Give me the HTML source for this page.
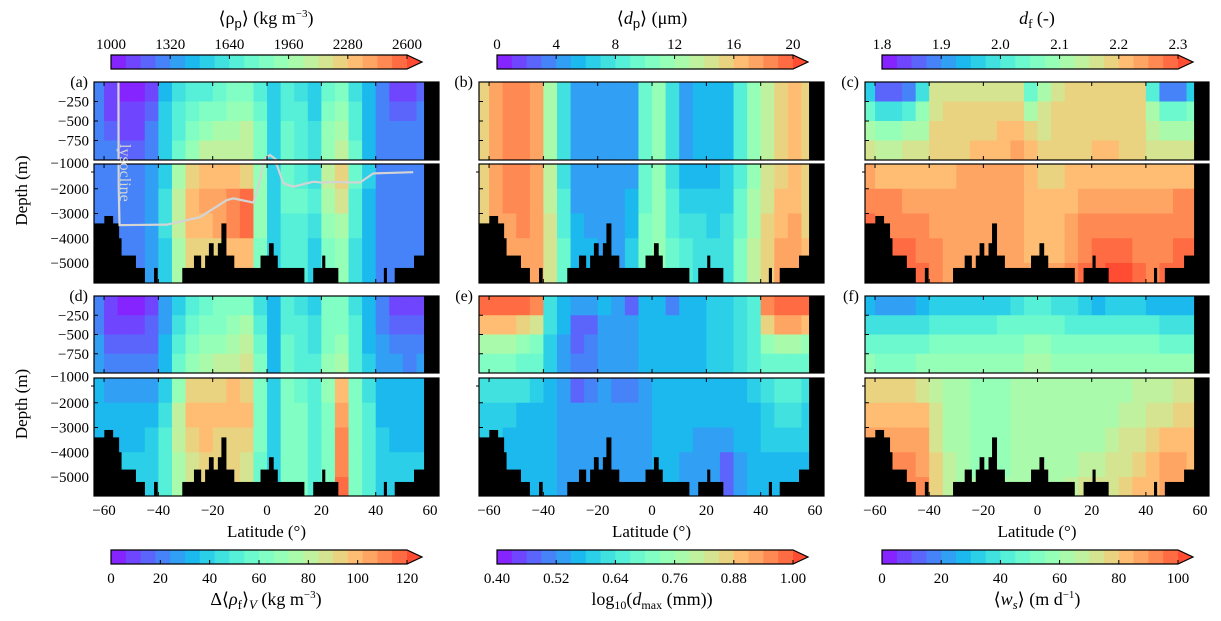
<!DOCTYPE html>
<html><head><meta charset="utf-8">
<style>
html,body{margin:0;padding:0;background:#fff;}
svg{display:block;font-family:"Liberation Serif","DejaVu Serif",serif;}
</style></head>
<body>
<svg id="fig" width="1221" height="621" viewBox="0 0 1221 621" xmlns="http://www.w3.org/2000/svg"></svg>
<script>
// ---------- DATA ----------
const latCols = [-62.5,-57.5,-52.5,-47.5,-42.5,-37.5,-32.5,-27.5,-22.5,-17.5,-12.5,-7.5,-2.5,2.5,7.5,12.5,17.5,22.5,27.5,32.5,37.5,42.5,47.5,52.5,57.5];
const depthEdges = [0,250,500,750,1000,2000,3000,4000,5000,5818];
const xTicks = [-60,-40,-20,0,20,40,60];
const yTicksUpper = [-250,-500,-750];
const yTicksLower = [-2000,-3000,-4000,-5000];

const rhoP = [
[1250,1100,1060,1060,1150,1450,1600,1650,1700,1750,1800,1850,1700,1500,1650,1600,1500,1750,1800,1600,1400,1250,1150,1120,1200],
[1280,1150,1100,1100,1200,1480,1650,1750,1800,1850,1900,1950,1750,1500,1700,1650,1550,1850,1900,1650,1420,1280,1200,1200,1250],
[1300,1200,1150,1150,1250,1500,1700,1850,1950,2000,2000,2050,1800,1550,1750,1700,1600,1900,2000,1700,1450,1300,1280,1280,1300],
[1300,1250,1200,1200,1300,1550,1750,1950,2050,2100,2100,2100,1850,1550,1750,1700,1600,1950,2050,1750,1450,1300,1300,1300,1300],
[1300,1300,1300,1300,1350,1550,2000,2200,2300,2300,2300,2250,1900,1500,1750,1700,1600,2050,2250,1750,1500,1300,1300,1300,1300],
[1300,1300,1300,1300,1350,1600,2100,2350,2400,2400,2450,2520,1950,1500,1750,1750,1650,2000,2150,1700,1450,1300,1300,1300,1300],
[1300,1300,1300,1300,1350,1600,2050,2300,2350,2400,2480,2520,1900,1500,1700,1700,1600,1900,2000,1650,1400,1300,1300,1300,1300],
[1300,1300,1300,1300,1350,1550,2000,2200,2250,2250,2300,2350,1850,1500,1650,1650,1550,1850,1950,1600,1400,1300,1300,1300,1300],
[1300,1300,1300,1300,1350,1550,2000,2200,2250,2250,2300,2350,1850,1500,1650,1650,1550,1850,1950,1600,1400,1300,1300,1300,1300]];
const dP = [
[15,17.5,18,18,17,12,7,4.5,4.5,4.5,4.5,4.5,9,11,7,4.5,5,5,5.5,8,11,13.5,15,16,15],
[15,17.5,18,18,17,12,7,4.5,4.5,4.5,4.5,4.5,9,11,7,4.5,5,5,5.5,8,11,13.5,15,16,15],
[15,17.5,18,18,17,12,7,4.5,4.5,4.5,4.5,4.5,9,11,7,4.5,5,5,5.5,8,11,13.5,15,16,15],
[15,17.5,18,18,17,12.5,7,4.5,4.5,4.5,4.5,4.5,9,11,7,4.5,5,5,5.5,8,11,13.5,15,16,15],
[15,17.5,18,18,17,13,7.5,4.5,4.5,4.5,4.5,4.5,9,11,7.5,5,5.5,5.5,6,8.5,11.5,14,15.5,16,15],
[15,17.5,18,18,17,13.5,8,4.5,4.5,4.5,4.5,5,9.5,11,8,6,6,6,6.5,9,12,14.5,16,16.5,15],
[15,17.5,17.5,18,17,14,8.5,5,4.5,4.5,4.5,5.5,10,11,8.5,7,7,6.5,7,9.5,12.5,15,16.5,17,15.5],
[15,17,17.5,17.5,17,14.5,9,5.5,5,4.5,4.5,6,10,11,9,8,7.5,7,7.5,10,13,15.5,17,17,16],
[15,17,17.5,17.5,17,14.5,9,5.5,5,4.5,4.5,6,10,11,9,8,7.5,7,7.5,10,13,15.5,17,17,16]];
const dF = [
[1.96,1.86,1.85,1.88,1.98,2.15,2.17,2.17,2.17,2.17,2.17,2.17,2.05,2.12,2.17,2.18,2.18,2.18,2.18,2.18,2.18,2.02,1.90,1.88,1.97],
[2.04,1.99,1.99,2.01,2.08,2.17,2.18,2.18,2.18,2.18,2.18,2.18,2.12,2.15,2.18,2.18,2.18,2.18,2.18,2.18,2.18,2.10,2.05,2.04,2.06],
[2.11,2.09,2.09,2.10,2.12,2.18,2.18,2.19,2.19,2.19,2.20,2.22,2.18,2.17,2.18,2.19,2.18,2.19,2.19,2.19,2.18,2.14,2.12,2.11,2.12],
[2.16,2.14,2.14,2.15,2.16,2.18,2.19,2.19,2.20,2.20,2.22,2.23,2.20,2.18,2.18,2.19,2.19,2.20,2.20,2.19,2.18,2.17,2.16,2.16,2.16],
[2.23,2.22,2.22,2.21,2.21,2.20,2.22,2.23,2.23,2.23,2.23,2.23,2.22,2.19,2.19,2.21,2.22,2.22,2.22,2.22,2.21,2.21,2.21,2.21,2.22],
[2.26,2.25,2.25,2.24,2.23,2.23,2.23,2.23,2.23,2.23,2.23,2.23,2.22,2.20,2.20,2.22,2.23,2.23,2.23,2.23,2.23,2.23,2.24,2.25,2.25],
[2.28,2.27,2.27,2.26,2.25,2.24,2.23,2.23,2.23,2.23,2.23,2.23,2.22,2.21,2.21,2.23,2.25,2.26,2.26,2.25,2.25,2.25,2.26,2.27,2.27],
[2.29,2.29,2.28,2.28,2.27,2.25,2.24,2.24,2.23,2.23,2.23,2.23,2.22,2.22,2.22,2.24,2.27,2.28,2.29,2.28,2.27,2.26,2.27,2.28,2.28],
[2.30,2.30,2.29,2.29,2.28,2.26,2.24,2.24,2.24,2.23,2.23,2.23,2.23,2.23,2.24,2.25,2.28,2.29,2.30,2.30,2.28,2.27,2.28,2.29,2.29]];
const dRhoF = [
[20,8,5,5,8,25,40,50,55,60,62,65,45,30,50,45,40,60,62,45,30,20,10,8,10],
[22,10,8,8,12,28,45,55,60,65,68,75,50,32,52,48,42,62,65,48,32,22,15,12,15],
[25,15,12,12,15,30,50,62,68,70,75,82,55,35,55,50,45,65,68,50,35,25,20,18,20],
[28,20,18,18,20,32,55,70,75,78,82,88,60,35,58,52,48,68,72,52,38,28,25,22,25],
[30,28,25,25,28,40,70,92,95,95,98,95,60,38,62,58,50,68,100,60,45,32,30,30,30],
[32,30,30,30,32,45,80,98,100,98,100,98,62,38,65,60,52,65,102,62,48,35,32,32,32],
[35,35,35,35,38,48,78,95,98,95,95,92,60,38,65,60,52,62,108,62,48,38,35,35,35],
[38,38,38,38,40,50,72,88,92,92,92,88,58,40,65,60,52,62,112,62,48,40,38,38,38],
[38,38,38,38,40,50,72,88,92,92,92,88,58,40,65,60,52,62,118,62,48,40,38,38,38]];
const logDmax = [
[0.98,0.98,0.98,0.97,0.95,0.62,0.56,0.52,0.53,0.55,0.54,0.47,0.55,0.58,0.50,0.58,0.58,0.60,0.60,0.62,0.66,0.96,0.98,0.98,0.98],
[0.88,0.88,0.88,0.86,0.82,0.62,0.55,0.49,0.48,0.52,0.54,0.52,0.56,0.58,0.56,0.58,0.58,0.60,0.60,0.62,0.66,0.85,0.92,0.92,0.90],
[0.76,0.76,0.76,0.74,0.72,0.60,0.52,0.48,0.50,0.52,0.54,0.53,0.56,0.58,0.57,0.58,0.58,0.60,0.60,0.62,0.65,0.74,0.76,0.76,0.74],
[0.72,0.72,0.72,0.70,0.68,0.60,0.52,0.50,0.50,0.52,0.54,0.53,0.56,0.58,0.57,0.58,0.58,0.60,0.60,0.62,0.64,0.68,0.70,0.70,0.68],
[0.62,0.62,0.62,0.62,0.60,0.56,0.52,0.49,0.50,0.52,0.50,0.51,0.54,0.56,0.56,0.56,0.56,0.57,0.58,0.58,0.60,0.62,0.64,0.64,0.62],
[0.60,0.60,0.60,0.58,0.57,0.55,0.53,0.52,0.52,0.52,0.52,0.52,0.54,0.55,0.55,0.55,0.55,0.55,0.55,0.56,0.58,0.60,0.62,0.62,0.60],
[0.60,0.60,0.58,0.57,0.56,0.55,0.53,0.53,0.53,0.53,0.53,0.53,0.54,0.55,0.55,0.55,0.54,0.54,0.52,0.55,0.58,0.60,0.60,0.60,0.60],
[0.60,0.60,0.57,0.56,0.56,0.55,0.53,0.53,0.53,0.53,0.53,0.53,0.54,0.55,0.55,0.54,0.53,0.52,0.49,0.54,0.57,0.58,0.58,0.58,0.58],
[0.60,0.60,0.57,0.56,0.56,0.55,0.53,0.53,0.53,0.53,0.53,0.53,0.54,0.55,0.55,0.54,0.53,0.52,0.46,0.54,0.57,0.58,0.58,0.58,0.58]];
const wS = [
[28,22,20,22,25,30,30,30,32,32,32,35,40,40,35,35,30,28,32,32,30,28,25,25,25],
[38,35,35,35,38,42,42,42,42,42,45,45,48,48,45,42,40,40,42,42,42,40,38,38,38],
[48,45,45,45,48,50,50,50,50,50,52,52,55,55,52,50,50,50,52,52,52,50,48,48,48],
[55,53,53,53,55,57,57,57,57,57,58,58,60,60,58,57,57,57,58,58,58,57,55,55,55],
[78,76,76,75,72,65,60,60,58,58,58,60,62,62,60,60,60,62,63,64,65,66,68,70,72],
[82,82,82,82,80,70,62,60,58,58,58,60,62,62,60,60,60,62,64,66,68,70,72,75,76],
[85,86,88,88,85,72,64,60,58,58,58,60,62,62,60,62,62,64,66,70,72,76,80,82,80],
[88,90,92,92,88,75,65,60,58,58,58,60,62,62,60,64,66,68,70,74,78,82,85,85,84],
[90,92,94,94,90,78,66,62,60,60,60,62,62,62,62,66,70,72,74,76,80,84,86,86,86]];
// bathymetry: [start latitude, depth of seafloor top (m) or null]
const bathyStart = [-63.7,-59.9,-56.8,-54.6,-53.7,-48.4,-45.1,-41.6,-40.4,-31.2,-26.9,-24.4,-22.8,-21.4,-19.8,-18.1,-16.8,-15.1,-12.2,-2.4,0.7,2.3,3.8,13.6,17.0,20.3,21.3,26.1,43.0,44.0,47.0,54.1,57.8];
const bathyDepth = [3400,3100,3400,4000,4700,5200,null,5200,null,5200,4700,5200,4700,4200,4700,4200,3400,4700,5200,4700,4200,4700,5200,null,5200,4700,5200,null,5200,null,5200,4700,0];
const lysoLat = [-54.7,-54.6,-54.3,-36.9,-24.7,-14.8,-12.4,-5.0,-3.2,-1.4,1.1,3.5,6.0,9.7,17.0,20.1,24.4,34.2,39.1,53.8];
const lysoDepth = [0,-2000,-3470,-3450,-3150,-2455,-2390,-2560,-1920,-1000,-936,-1000,-1780,-1917,-1715,-1750,-1730,-1750,-1380,-1330];
const cbTicksA = [1000,1320,1640,1960,2280,2600];
const cbTicksB = [0,4,8,12,16,20];
const cbTicksC = [1.8,1.9,2.0,2.1,2.2,2.3];
const cbTicksD = [0,20,40,60,80,100,120];
const cbTicksE = [0.40,0.52,0.64,0.76,0.88,1.00];
const cbTicksF = [0,20,40,60,80,100];

// ---------- LAYOUT ----------
const NS="http://www.w3.org/2000/svg";
const svg=document.getElementById('fig');
function el(tag,attrs,parent){const e=document.createElementNS(NS,tag);for(const k in attrs)e.setAttribute(k,attrs[k]);(parent||svg).appendChild(e);return e;}
const LAT0=-63.7, LAT1=63.3;
const cols=[{x0:94,x1:439},{x0:479,x1:824},{x0:865,x1:1209}];
const rowsY=[{u0:82,u1:160,l0:164,l1:283},{u0:296,u1:373,l0:378,l1:496}];
function xs(c,lat){return c.x0+(lat-LAT0)*(c.x1-c.x0)/(LAT1-LAT0);}
function yU(r,d){return r.u0+(Math.abs(d))/1000*(r.u1-r.u0);}
function yL(r,d){return r.l0+(Math.abs(d)-1000)/1000*24.75;}
function cmapT(t){const r=Math.min(1,Math.abs(2*t-0.5)),g=Math.sin(Math.PI*t),b=Math.cos(Math.PI*t/2);
  const f=v=>Math.round(255*(0.9*Math.max(0,v)+0.1)).toString();return `rgb(${f(r)},${f(g)},${f(b)})`;}
function levelT(k){return 0.015+k/20*0.915;}
function colorOf(v,vmin,vmax){let k=Math.floor((v-vmin)/(vmax-vmin)*20);k=Math.max(0,Math.min(20,k));return cmapT(levelT(k));}
const fmt=n=>String(n).replace('-','\u2212');

const panels=[
 {id:'a',data:rhoP,vmin:1000,vmax:2600,c:0,r:0,ticks:cbTicksA,title:'\u27E8\u03C1<tspan font-family="Liberation Sans" font-size="13" dy="4">p</tspan><tspan dy="-4">\u27E9 (kg m</tspan><tspan font-size="11" dy="-7">\u22123</tspan><tspan dy="7">)</tspan>',lyso:true},
 {id:'b',data:dP,vmin:0,vmax:20,c:1,r:0,ticks:cbTicksB,title:'\u27E8<tspan font-style="italic">d</tspan><tspan font-family="Liberation Sans" font-size="13" dy="4">p</tspan><tspan dy="-4">\u27E9 (\u03BCm)</tspan>'},
 {id:'c',data:dF,vmin:1.8,vmax:2.3,c:2,r:0,ticks:cbTicksC,title:'<tspan font-style="italic">d</tspan><tspan font-size="13" dy="4">f</tspan><tspan dy="-4"> (-)</tspan>',fix:1},
 {id:'d',data:dRhoF,vmin:0,vmax:120,c:0,r:1,ticks:cbTicksD,title:'\u0394\u27E8<tspan font-style="italic">\u03C1</tspan><tspan font-size="13" dy="4">f</tspan><tspan dy="-4">\u27E9</tspan><tspan font-style="italic" font-size="13" dy="4">V</tspan><tspan dy="-4"> (kg m</tspan><tspan font-size="11" dy="-7">\u22123</tspan><tspan dy="7">)</tspan>'},
 {id:'e',data:logDmax,vmin:0.4,vmax:1.0,c:1,r:1,ticks:cbTicksE,title:'log<tspan font-size="12" dy="4">10</tspan><tspan dy="-4">(</tspan><tspan font-style="italic">d</tspan><tspan font-size="12" dy="4">max</tspan><tspan dy="-4"> (mm))</tspan>',fix:2},
 {id:'f',data:wS,vmin:0,vmax:100,c:2,r:1,ticks:cbTicksF,title:'\u27E8<tspan font-style="italic">w</tspan><tspan font-style="italic" font-size="13" dy="4">s</tspan><tspan dy="-4">\u27E9 (m d</tspan><tspan font-size="11" dy="-7">\u22121</tspan><tspan dy="7">)</tspan>'}
];
const cbX=[{x0:111,x1:407},{x0:497,x1:793},{x0:882,x1:1178}];

panels.forEach(P=>{
  const C=cols[P.c], R=rowsY[P.r];
  const g=el('g',{});  
  [['upper',R.u0,R.u1,0,4,yU],['lower',R.l0,R.l1,4,9,yL]].forEach(([nm,y0,y1,r0,r1,yf])=>{
    const sub=el('g',{},g);  
    const cid='clip'+P.id+nm;
    const cp=el('clipPath',{id:cid},sub); el('rect',{x:C.x0,y:y0,width:C.x1-C.x0,height:y1-y0},cp);
    const cells=el('g',{'clip-path':`url(#${cid})`},sub);
    for(let r=r0;r<r1;r++){
      const ya=yf(R,depthEdges[r]), yb=yf(R,depthEdges[r+1]);
      latCols.forEach((lat,ci)=>{
        const xa=xs(C,lat-2.5), xb=xs(C,lat+2.5);
        const rc=el('rect',{x:xa,y:ya,width:xb-xa+0.5,height:yb-ya+0.5,fill:colorOf(P.data[r][ci],P.vmin,P.vmax)},cells);
        
        
      });
    }
    bathyStart.forEach((s,i)=>{
      const d=bathyDepth[i]; if(d===null) return;
      const e=i+1<bathyStart.length?bathyStart[i+1]:LAT1;
      const ya=yf(R,Math.max(d,depthEdges[r0]));
      const b=el('rect',{x:xs(C,s),y:ya,width:xs(C,e)-xs(C,s)+0.4,height:y1-ya+1,fill:'#000'},cells);
      
      
    });
    if(P.lyso){
      const pts=lysoLat.map((l,i)=>xs(C,l)+','+yf(R,lysoDepth[i])).join(' ');
      const pl=el('polyline',{points:pts,fill:'none',stroke:'#d4d4d4','stroke-width':2.2},cells);
      
      
    }
    el('rect',{x:C.x0,y:y0,width:C.x1-C.x0,height:y1-y0,fill:'none',stroke:'#000','stroke-width':1.2},sub);
    xTicks.forEach(t=>{const x=xs(C,t);
      el('line',{x1:x,x2:x,y1:y0,y2:y0+4,stroke:'#000','stroke-width':1},sub);
      el('line',{x1:x,x2:x,y1:y1,y2:y1-4,stroke:'#000','stroke-width':1},sub);});
    const yt = nm==='upper'?yTicksUpper:yTicksLower;
    yt.forEach(t=>{const y=yf(R,t); el('line',{x1:C.x0,x2:C.x0+4,y1:y,y2:y,stroke:'#000','stroke-width':1},sub);
      if(P.c===0){const tx=el('text',{x:C.x0-5,y:y+5,'text-anchor':'end','font-size':15},sub);tx.textContent=fmt(t);
        
        }});
    if(nm==='lower'){el('line',{x1:C.x0-3,x2:C.x0,y1:y0+8,y2:y0+8,stroke:'#000','stroke-width':1},sub);}
  });
  if(P.c===0){const tx=el('text',{x:C.x0-5,y:(R.u1+R.l0)/2+6,'text-anchor':'end','font-size':15},g);tx.textContent='\u22121000';
    
    
    const yl=el('text',{x:0,y:0,'text-anchor':'middle','font-size':17,transform:`translate(27,${(R.u0+R.l1)/2+8}) rotate(-90)`},g);yl.textContent='Depth (m)';
    
    }
  if(P.lyso){const lt=el('text',{x:0,y:0,'font-size':16,fill:'#d4d4d4',transform:`translate(120,${R.u0+62}) rotate(90)`},g);lt.textContent='lysocline';
    
    }
  const pl=el('text',{x:C.x0-6,y:R.u0+5,'text-anchor':'end','font-size':16},g);pl.textContent='('+P.id+')';
  
  
  if(P.r===1){
    xTicks.forEach(t=>{const tx=el('text',{x:xs(C,t),y:R.l1+19,'text-anchor':'middle','font-size':15},g);tx.textContent=fmt(t);
      
      });
    const xl=el('text',{x:(C.x0+C.x1)/2,y:R.l1+41,'text-anchor':'middle','font-size':17},g);xl.textContent='Latitude (\u00B0)';
    
    
  }
  const B=cbX[P.c], top=P.r===0;
  const cy0=top?55:550, cy1=cy0+14;
  const cb=el('g',{},svg);  
  const w=(B.x1-B.x0)/20;
  for(let k=0;k<20;k++){el('rect',{x:B.x0+k*w,y:cy0,width:w+0.5,height:14,fill:cmapT(levelT(k))},cb);}
  el('polygon',{points:`${B.x1},${cy0} ${B.x1+15},${(cy0+cy1)/2} ${B.x1},${cy1}`,fill:cmapT(levelT(20))},cb);
  el('polygon',{points:`${B.x0},${cy0} ${B.x1},${cy0} ${B.x1+15},${(cy0+cy1)/2} ${B.x1},${cy1} ${B.x0},${cy1}`,fill:'none',stroke:'#000','stroke-width':1.2},cb);
  P.ticks.forEach(t=>{const x=B.x0+(t-P.vmin)/(P.vmax-P.vmin)*(B.x1-B.x0);
    el('line',{x1:x,x2:x,y1:top?cy0:cy1,y2:top?cy0+4:cy1-4,stroke:'#000'},cb);
    const tx=el('text',{x:x,y:top?cy0-6:cy1+19,'text-anchor':'middle','font-size':15},cb);
    tx.textContent=P.fix?t.toFixed(P.fix):String(t);
    
    });
  const ct=el('text',{x:(B.x0+B.x1)/2+7,y:top?24:605,'text-anchor':'middle','font-size':18},cb);
  ct.innerHTML=P.title;
  
  
});
</script>
</body></html>
